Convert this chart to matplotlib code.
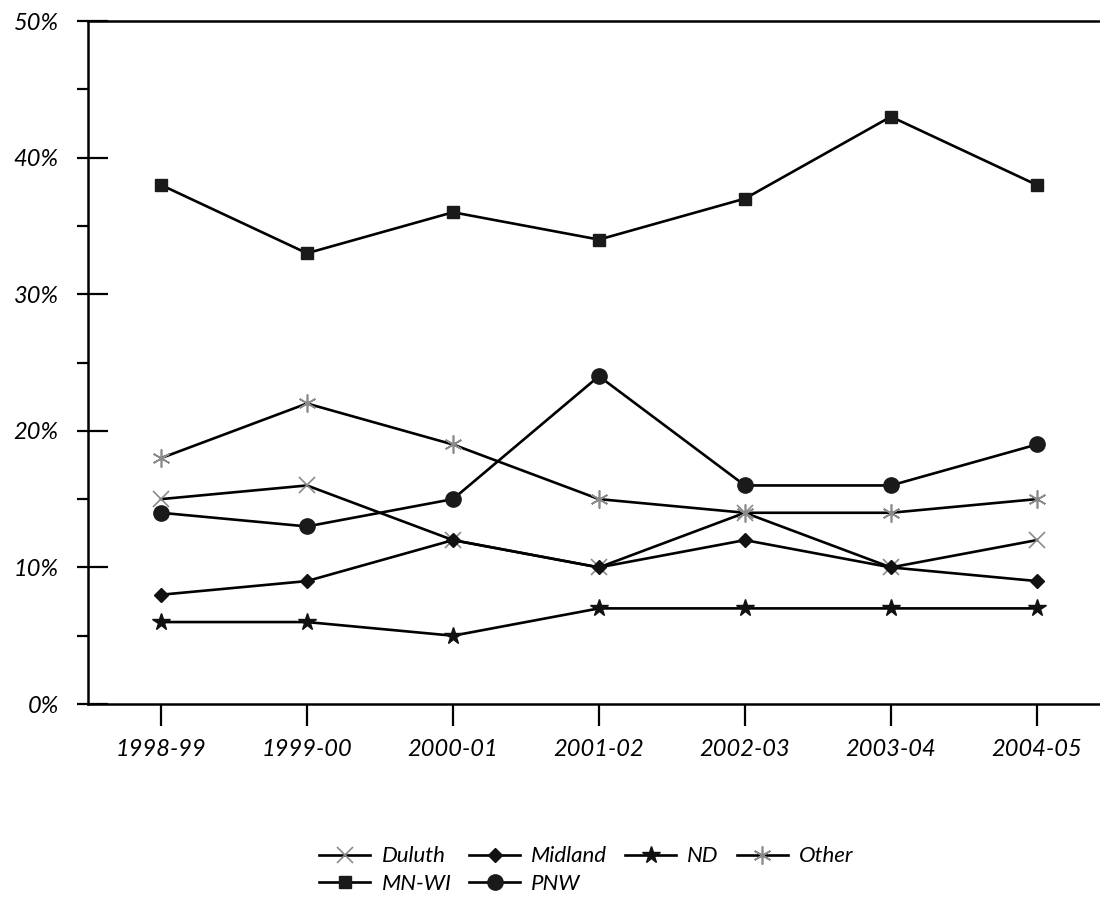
import numpy as np
import matplotlib.pyplot as plt
from matplotlib.ticker import MultipleLocator, FuncFormatter

plt.rcParams['font.family'] = ['Lato', 'DejaVu Sans']
plt.rcParams['font.style'] = 'italic'

# --------------------------------------------------------------------------
# DATA
# --------------------------------------------------------------------------
seasons = ['1998-99', '1999-00', '2000-01', '2001-02', '2002-03', '2003-04', '2004-05']

duluth = [15, 16, 12, 10, 14, 10, 12]
midland = [8, 9, 12, 10, 12, 10, 9]
nd = [6, 6, 5, 7, 7, 7, 7]
other = [18, 22, 19, 15, 14, 14, 15]
mn_wi = [38, 33, 36, 34, 37, 43, 38]
pnw = [14, 13, 15, 24, 16, 16, 19]

# --------------------------------------------------------------------------
# PLOT
# --------------------------------------------------------------------------
fig = plt.figure(figsize=(11, 8.99), dpi=100)
ax = fig.add_axes([0.08, 0.2169, 0.925, 0.7597])

x = np.arange(len(seasons))
lw = 1.9
gray = '#8a8a8a'

l_duluth, = ax.plot(x, duluth, color='black', lw=lw, marker='x', ms=11,
                    mec=gray, mew=1.2, label='Duluth')
l_midland, = ax.plot(x, midland, color='black', lw=lw, marker='D', ms=7,
                     mfc='#111111', mec='#111111', label='Midland')
l_nd, = ax.plot(x, nd, color='black', lw=lw, marker='*', ms=13,
                mfc='#111111', mec='#111111', label='ND')
l_other, = ax.plot(x, other, color='black', lw=lw, marker=(6, 2, 0), ms=13,
                   mec=gray, mew=1.2, label='Other')
l_mnwi, = ax.plot(x, mn_wi, color='black', lw=lw, marker='s', ms=9,
                  mfc='#1a1a1a', mec='#1a1a1a', label='MN-WI')
l_pnw, = ax.plot(x, pnw, color='black', lw=lw, marker='o', ms=11,
                 mfc='#1a1a1a', mec='#1a1a1a', label='PNW')

ax.set_xlim(-0.5, 6.47)
ax.set_ylim(0, 50)
ax.set_xticks(x)
ax.set_xticklabels(seasons)

ax.yaxis.set_major_locator(MultipleLocator(10))
ax.yaxis.set_minor_locator(MultipleLocator(5))
ax.yaxis.remove_overlapping_locs = False
ax.yaxis.set_major_formatter(FuncFormatter(lambda v, p: f'{v:.0f}%'))

ax.tick_params(axis='y', which='major', direction='in', length=14.5, width=1.6,
               pad=21, labelsize=17)
ax.tick_params(axis='y', which='minor', direction='out', length=8, width=1.6)
ax.tick_params(axis='x', direction='out', length=16, width=1.6, pad=9,
               labelsize=17)

for side in ['left', 'bottom', 'top']:
    ax.spines[side].set_linewidth(1.8)
ax.spines['right'].set_visible(False)

handles = [l_duluth, l_mnwi, l_midland, l_pnw, l_nd, l_other]
fig.legend(handles=handles, labels=[h.get_label() for h in handles],
           loc='center', bbox_to_anchor=(0.533, 0.032), ncol=4, frameon=False,
           fontsize=16, handlelength=2.3, columnspacing=0.8, handletextpad=0.5,
           labelspacing=0.35)

fig.savefig('out.png', dpi=100)
